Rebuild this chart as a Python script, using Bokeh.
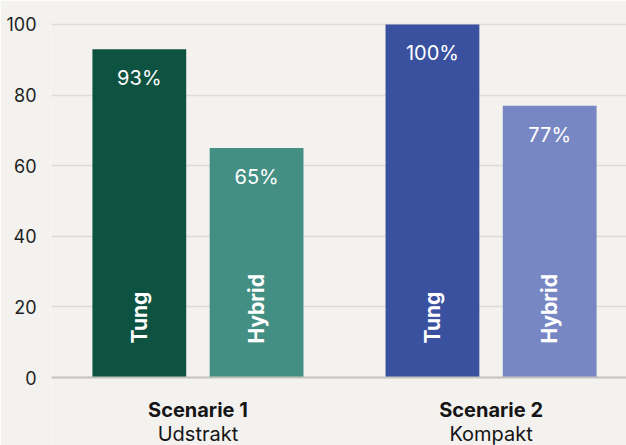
import math
from bokeh.plotting import figure
from bokeh.models import ColumnDataSource, Range1d, FixedTicker, Span
from bokeh.core.properties import value
from bokeh.embed import file_html
from bokeh.resources import INLINE

# ---- data ----
scenarios = ["Scenarie 1", "Scenarie 2"]
subtitles = ["Udstrakt", "Kompakt"]
types = ["Tung", "Hybrid"]
values_s1 = [93, 65]
values_s2 = [100, 77]
colors_s1 = ["#0e5341", "#438f84"]
colors_s2 = ["#3a519f", "#7787c3"]
y_ticks = [0, 20, 40, 60, 80, 100]

BG = "#f3f2ef"
FONT = "Inter"

GROUP_STEP = 2.5
xs, ys, cols, pct, names = [], [], [], [], []
for g, (vals, cs) in enumerate([(values_s1, colors_s1), (values_s2, colors_s2)]):
    for s, (v, c) in enumerate(zip(vals, cs)):
        xs.append(g * GROUP_STEP + s)
        ys.append(v)
        cols.append(c)
        pct.append(f"{v}%")
        names.append(types[s])
src = ColumnDataSource(dict(x=xs, top=ys, color=cols, pct=pct, name=names, zero=[0] * len(xs)))
group_centers = [g * GROUP_STEP + 0.5 for g in range(len(scenarios))]
cat_src = ColumnDataSource(dict(x=group_centers, zero=[0] * len(group_centers),
                                scen=scenarios, sub=subtitles))

p = figure(width=626, height=445, output_backend="svg", toolbar_location=None,
           x_range=Range1d(-0.749, 4.155), y_range=Range1d(-19.26, 102.83),
           min_border_left=51, min_border_right=0, min_border_top=14, min_border_bottom=0)
p.background_fill_color = BG
p.border_fill_color = BG
p.outline_line_color = None

p.ygrid.ticker = FixedTicker(ticks=y_ticks)
p.ygrid.grid_line_color = "#dddbd7"
p.ygrid.grid_line_width = 1.5
p.xgrid.grid_line_color = None
p.add_layout(Span(location=0, dimension="width", line_color="#c4c3c0", line_width=2))

p.vbar(x="x", top="top", bottom=0, width=0.8, color="color", source=src, line_color=None)

# value labels
p.text(x="x", y="top", text="pct", source=src, text_color="white",
       text_font=value(FONT), text_font_size="20px", text_align="center",
       text_baseline="middle", y_offset=29)
# rotated series labels
p.text(x="x", y="zero", text="name", source=src, text_color="white",
       text_font=value(FONT), text_font_size="21px", text_font_style="bold",
       text_align="left", text_baseline="middle", angle=math.pi / 2, y_offset=-34)

# category labels
p.text(x="x", y="zero", text="scen", source=cat_src, text_color="#151515",
       text_font=value(FONT), text_font_size="20px", text_font_style="bold",
       text_align="center", text_baseline="middle", y_offset=32)
p.text(x="x", y="zero", text="sub", source=cat_src, text_color="#151515",
       text_font=value(FONT), text_font_size="20px",
       text_align="center", text_baseline="middle", y_offset=56)

# y axis
p.yaxis.ticker = FixedTicker(ticks=y_ticks)
p.yaxis.axis_line_color = None
p.yaxis.major_tick_line_color = None
p.yaxis.minor_tick_line_color = None
p.yaxis.major_label_text_font = FONT
p.yaxis.major_label_text_font_size = "18px"
p.yaxis.major_label_text_color = "#1f1f1f"
p.yaxis.major_label_standoff = 9
p.xaxis.visible = False

open("out.html", "w").write(file_html(p, INLINE))
